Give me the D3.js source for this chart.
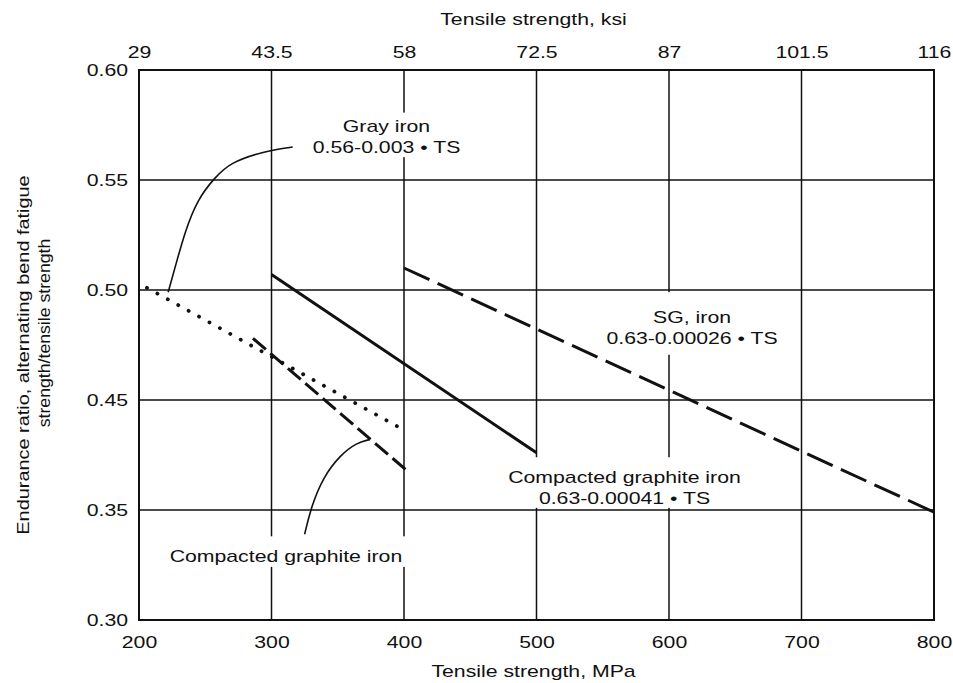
<!DOCTYPE html>
<html>
<head>
<meta charset="utf-8">
<script src="https://cdn.jsdelivr.net/npm/d3@7"></script>
<style>
  html, body { margin: 0; padding: 0; background: #fff; }
  svg { display: block; }
  text { font-family: "Liberation Sans", Arial, Helvetica, sans-serif; fill: #111; }
</style>
</head>
<body>
<svg id="chart" width="953" height="683"></svg>
<script>
// ---------- data ----------
const mpaTicks = [200, 300, 400, 500, 600, 700, 800];
const ksiTicks = [29, 43.5, 58, 72.5, 87, 101.5, 116];
const ratioTicks = [0.30, 0.35, 0.45, 0.50, 0.55, 0.60];
const ratioLabels = ["0.30", "0.35", "0.45", "0.50", "0.55", "0.60"];

// Gray iron (dotted)
const grayTS = [206, 395];
const grayRatio = [0.501, 0.426];
// Compacted graphite iron (solid)
const cgSolidTS = [300, 500];
const cgSolidRatio = [0.507, 0.402];
// Compacted graphite iron (short dashes)
const cgDashTS = [286, 403];
const cgDashRatio = [0.478, 0.385];
// SG iron (long dashes)
const sgTS = [400, 800];
const sgRatio = [0.510, 0.349];

// leader curves
const grayLeaderTS = [316, 294, 269, 257, 244, 235, 228, 222];
const grayLeaderRatio = [0.565, 0.563, 0.558, 0.551, 0.541, 0.527, 0.512, 0.499];
const cgLeaderTS = [325, 330, 339, 352, 364, 374];
const cgLeaderRatio = [0.339, 0.353, 0.380, 0.400, 0.411, 0.414];

(function () {
// ---------- layout ----------
const svg = d3.select("#chart");
const pL = 139, pR = 934, pT = 70, pB = 620;
const SX = 1.25; // horizontal stretch of the lettering

const x = d3.scaleLinear().domain([200, 800]).range([pL, pR]);
const xTop = d3.scaleLinear().domain([29, 116]).range([pL, pR]);
const y = d3.scaleLinear()
  .domain(ratioTicks)
  .range(ratioTicks.map((d, i) => pB - i * (pB - pT) / (ratioTicks.length - 1)));

// grid
const grid = svg.append("g").attr("stroke", "#111").attr("stroke-width", 1.5);
grid.selectAll("line.v").data(mpaTicks.slice(1, -1)).join("line").attr("class", "v")
  .attr("x1", d => x(d)).attr("x2", d => x(d)).attr("y1", pT).attr("y2", pB);
grid.selectAll("line.h").data(ratioTicks.slice(1, -1)).join("line").attr("class", "h")
  .attr("x1", pL).attr("x2", pR).attr("y1", d => y(d)).attr("y2", d => y(d));

// frame
svg.append("rect").attr("x", pL).attr("y", pT).attr("width", pR - pL).attr("height", pB - pT)
  .attr("fill", "none").attr("stroke", "#111").attr("stroke-width", 2);

// axes
const axB = svg.append("g").attr("transform", `translate(0,${pB})`)
  .call(d3.axisBottom(x).tickValues(mpaTicks).tickSize(0).tickPadding(16));
const axT = svg.append("g").attr("transform", `translate(0,${pT})`)
  .call(d3.axisTop(xTop).tickValues(ksiTicks).tickSize(0).tickPadding(12).tickFormat(d => String(d)));
const axL = svg.append("g").attr("transform", `translate(${pL},0)`)
  .call(d3.axisLeft(y).tickValues(ratioTicks).tickSize(0).tickPadding(8.8)
    .tickFormat((d, i) => ratioLabels[i]));
[axB, axT, axL].forEach(a => {
  a.select(".domain").remove();
  a.selectAll("text").attr("font-size", 17).attr("fill", "#111")
    .attr("font-family", '"Liberation Sans", Arial, sans-serif')
    .attr("transform", `scale(${SX},1)`);
});
axL.selectAll("text").attr("x", -8.8);

function stretchedText(g, px, py, str, size, sx, anchor) {
  return g.append("text")
    .attr("transform", `translate(${px},${py}) scale(${sx},1)`)
    .attr("text-anchor", anchor || "middle")
    .attr("font-size", size)
    .text(str);
}

// axis titles
stretchedText(svg, (pL + pR) / 2 - 3, 25, "Tensile strength, ksi", 17, SX);
stretchedText(svg, (pL + pR) / 2 - 3, 677, "Tensile strength, MPa", 17, SX);
svg.append("text").attr("transform", "translate(29,355) rotate(-90) scale(1.17,1)")
  .attr("text-anchor", "middle").attr("font-size", 17)
  .text("Endurance ratio, alternating bend fatigue");
svg.append("text").attr("transform", "translate(49.5,333) rotate(-90) scale(1.04,1)")
  .attr("text-anchor", "middle").attr("font-size", 17)
  .text("strength/tensile strength");

// annotation labels with white backgrounds that break the grid
const labels = [
  { ts: 386.8, r: 0.572, lines: ["Gray iron", "0.56-0.003 \u2022 TS"], padT: 4, padB: 1 },
  { ts: 617.4, r: 0.4849, lines: ["SG, iron", "0.63-0.00026 \u2022 TS"], padT: 16, padB: 7 },
  { ts: 566.4, r: 0.3743, lines: ["Compacted graphite iron", "0.63-0.00041 \u2022 TS"], padT: 11, padB: 0 },
  { ts: 310.9, r: 0.3262, lines: ["Compacted graphite iron"], padT: 11, padB: 1 }
];
const bgLayer = svg.append("g");
const lineLayer = svg.append("g");
const textLayer = svg.append("g");
labels.forEach(l => {
  const g = textLayer.append("g");
  l.lines.forEach((s, i) => stretchedText(g, x(l.ts), y(l.r) + i * 21, s, 17, SX));
  const bb = g.node().getBBox();
  bgLayer.append("rect")
    .attr("x", bb.x - 3).attr("width", bb.width + 6)
    .attr("y", bb.y - l.padT).attr("height", bb.height + l.padT + l.padB)
    .attr("fill", "#fff");
});

// data lines
const line = d3.line().x(d => x(d[0])).y(d => y(d[1]));
const zip = (a, b) => a.map((v, i) => [v, b[i]]);

lineLayer.append("path").datum(zip(grayTS, grayRatio)).attr("d", line)
  .attr("fill", "none").attr("stroke", "#111").attr("stroke-width", 3.8)
  .attr("stroke-linecap", "round").attr("stroke-dasharray", "0.1 11.8");
lineLayer.append("path").datum(zip(cgSolidTS, cgSolidRatio)).attr("d", line)
  .attr("fill", "none").attr("stroke", "#111").attr("stroke-width", 3);
lineLayer.append("path").datum(zip(cgDashTS, cgDashRatio)).attr("d", line)
  .attr("fill", "none").attr("stroke", "#111").attr("stroke-width", 3)
  .attr("stroke-dasharray", "17 6");
lineLayer.append("path").datum(zip(sgTS, sgRatio)).attr("d", line)
  .attr("fill", "none").attr("stroke", "#111").attr("stroke-width", 3)
  .attr("stroke-dasharray", "28 9");

// leader curves
const curve = d3.line().x(d => x(d[0])).y(d => y(d[1])).curve(d3.curveBasis);
lineLayer.append("path").datum(zip(grayLeaderTS, grayLeaderRatio)).attr("d", curve)
  .attr("fill", "none").attr("stroke", "#111").attr("stroke-width", 1.6);
lineLayer.append("path").datum(zip(cgLeaderTS, cgLeaderRatio)).attr("d", curve)
  .attr("fill", "none").attr("stroke", "#111").attr("stroke-width", 1.6);
})();
</script>
</body>
</html>
